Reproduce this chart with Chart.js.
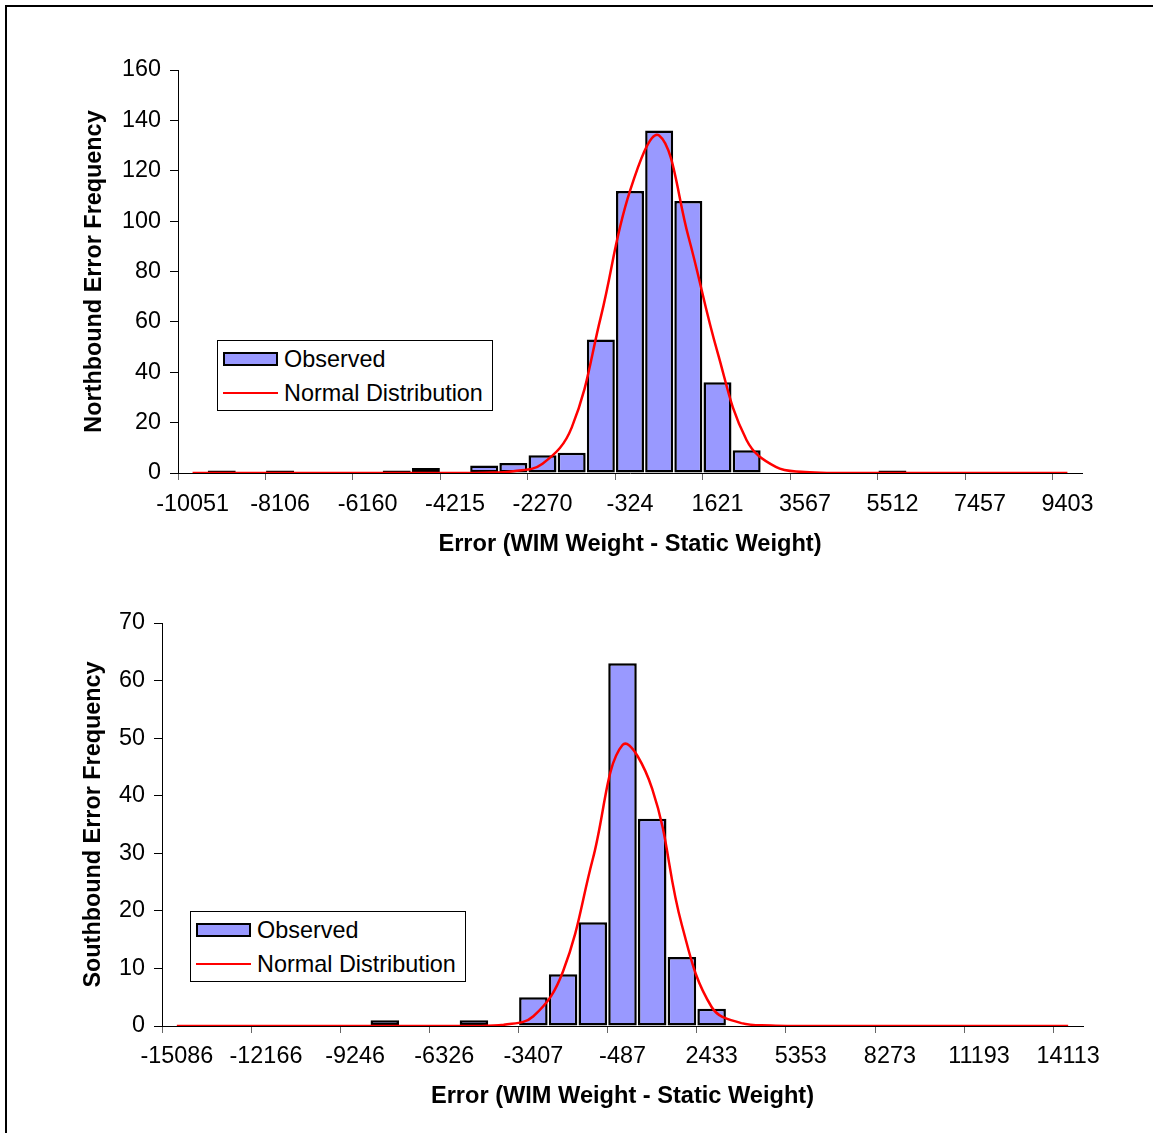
<!DOCTYPE html>
<html>
<head>
<meta charset="utf-8">
<script src="https://cdn.jsdelivr.net/npm/chart.js@4.4.0/dist/chart.umd.min.js"></script>
<style>
body { margin: 0; background: #fff; overflow: hidden; font-family: "Liberation Sans", Arial, sans-serif; }
#page { position: relative; width: 1153px; height: 1133px; overflow: hidden; background: #fff; }
#frame { position: absolute; left: 5px; top: 5px; width: 1170px; height: 1150px; border: 2px solid #000; }
canvas { position: absolute; left: 0; }
.lg-box { position: absolute; width: 274px; height: 69px; border: 1px solid #000; background: #fff; }
.lg-swatch { position: absolute; width: 51px; height: 10px; background: #9999FF; border: 2px solid #000; }
.lg-line { position: absolute; width: 55px; height: 2px; background: #FF0000; }
.lg-text { position: absolute; font-size: 23.4px; line-height: 28px; color: #000; white-space: nowrap; }
</style>
</head>
<body>
<div id="page">
  <div id="frame"></div>
  <canvas id="northChart" width="1153" height="566" style="top:0"></canvas>
  <canvas id="southChart" width="1153" height="567" style="top:566px"></canvas>
</div>
<script>
// bin centres (category axis), labels shown on every third bin
var northCats = [-10051, -9403, -8754, -8106, -7457, -6809, -6160, -5512, -4863, -4215, -3567,
  -2918, -2270, -1621, -973, -324, 324, 973, 1621, 2270, 2918, 3567, 4215, 4863, 5512, 6160,
  6809, 7457, 8106, 8754, 9403];
var northObserved = [0, 1, 0, 1, 0, 0, 0, 1, 2, 0, 3, 4, 7, 8, 53, 112, 136, 108, 36, 9, 0, 0,
  0, 0, 1, 0, 0, 0, 0, 0, 0];
var northNormal = [0, 0, 0, 0, 0, 0, 0, 0, 0, 0, 0.1, 0.7, 3.7, 18, 62, 112, 134, 94, 48, 13,
  2.4, 0.4, 0, 0, 0, 0, 0, 0, 0, 0, 0];

var southCats = [-15086, -14113, -13139, -12166, -11193, -10219, -9246, -8273, -7299, -6326,
  -5353, -4380, -3407, -2433, -1460, -487, 487, 1460, 2433, 3407, 4380, 5353, 6326, 7299, 8273,
  9246, 10219, 11193, 12166, 13139, 14113];
var southObserved = [0, 0, 0, 0, 0, 0, 0, 1, 0, 0, 1, 0, 5, 9, 18, 63, 36, 12, 3, 0, 0, 0, 0,
  0, 0, 0, 0, 0, 0, 0, 0];
var southNormal = [0, 0, 0, 0, 0, 0, 0, 0, 0, 0, 0, 0.2, 1.7, 9.5, 29, 48.8, 41.2, 17.5, 3.3,
  0.5, 0.1, 0, 0, 0, 0, 0, 0, 0, 0, 0, 0];

var xTitle = "Error (WIM Weight - Static Weight)";

Chart.defaults.font.family = "'Liberation Sans', Arial, sans-serif";
Chart.defaults.font.size = 23.4;
Chart.defaults.color = "#000";

function makeChart(id, cats, observed, normal, yMax, yStep, yTitle, lay) {
  return new Chart(id, {
    type: "bar",
    data: {
      labels: cats,
      datasets: [
        {
          type: "line",
          label: "Normal Distribution",
          data: normal,
          borderColor: "#FF0000",
          borderWidth: 2.5,
          pointRadius: 0,
          tension: 0.4,
          fill: false,
          order: 0
        },
        {
          label: "Observed",
          data: observed,
          backgroundColor: "#9999FF",
          borderColor: "#000",
          borderWidth: 2.5,
          borderSkipped: false,
          barPercentage: 0.96,
          categoryPercentage: 1,
          order: 1
        }
      ]
    },
    options: {
      responsive: false,
      animation: false,
      events: [],
      layout: { padding: { top: lay.top, right: lay.right, bottom: 0, left: 0 } },
      plugins: { legend: { display: false }, tooltip: { enabled: false } },
      scales: {
        x: {
          offset: true,
          grid: {
            display: true,
            offset: true,
            drawOnChartArea: false,
            tickLength: 7,
            tickColor: function(c) { return c.index % 3 === 0 ? "#666" : "rgba(0,0,0,0)"; }
          },
          border: { color: "#000", width: 1 },
          ticks: {
            autoSkip: false,
            maxRotation: 0,
            minRotation: 0,
            padding: lay.tickPad,
            callback: function(v, i) { return i % 3 === 0 ? this.getLabelForValue(v) : ""; }
          },
          title: {
            display: true,
            text: xTitle,
            font: { size: 23.6, weight: "bold" },
            padding: { top: 0, bottom: lay.titlePad }
          },
          afterFit: function(s) { s.height = lay.xHeight; }
        },
        y: {
          min: 0,
          max: yMax,
          grid: { display: true, drawOnChartArea: false, tickLength: 8, tickColor: "#000" },
          border: { color: "#000", width: 1 },
          ticks: { stepSize: yStep, padding: 9 },
          title: {
            display: true,
            text: yTitle,
            font: { size: 23.4, weight: "bold" },
            padding: { top: lay.yTitlePad, bottom: 0 }
          },
          afterFit: function(s) { s.width = lay.left; }
        }
      }
    }
  });
}

makeChart("northChart", northCats, northObserved, northNormal, 160, 20,
  "Northbound Error Frequency",
  { top: 70, right: 71, left: 178, xHeight: 93, tickPad: 11, titlePad: 7, yTitlePad: 81 });
makeChart("southChart", southCats, southObserved, southNormal, 70, 10,
  "Southbound Error Frequency",
  { top: 57, right: 70, left: 162, xHeight: 107, tickPad: 10, titlePad: 22, yTitlePad: 80 });

function addLegend(x, y) {
  var page = document.getElementById("page");
  var html = '<div class="lg-box" style="left:' + x + 'px;top:' + y + 'px"></div>' +
    '<div class="lg-swatch" style="left:' + (x + 6) + 'px;top:' + (y + 12) + 'px"></div>' +
    '<div class="lg-text" style="left:' + (x + 67) + 'px;top:' + (y + 5) + 'px">Observed</div>' +
    '<div class="lg-line" style="left:' + (x + 6) + 'px;top:' + (y + 52) + 'px"></div>' +
    '<div class="lg-text" style="left:' + (x + 67) + 'px;top:' + (y + 39) + 'px">Normal Distribution</div>';
  page.insertAdjacentHTML("beforeend", html);
}
addLegend(217, 340);
addLegend(190, 911);
</script>
</body>
</html>
